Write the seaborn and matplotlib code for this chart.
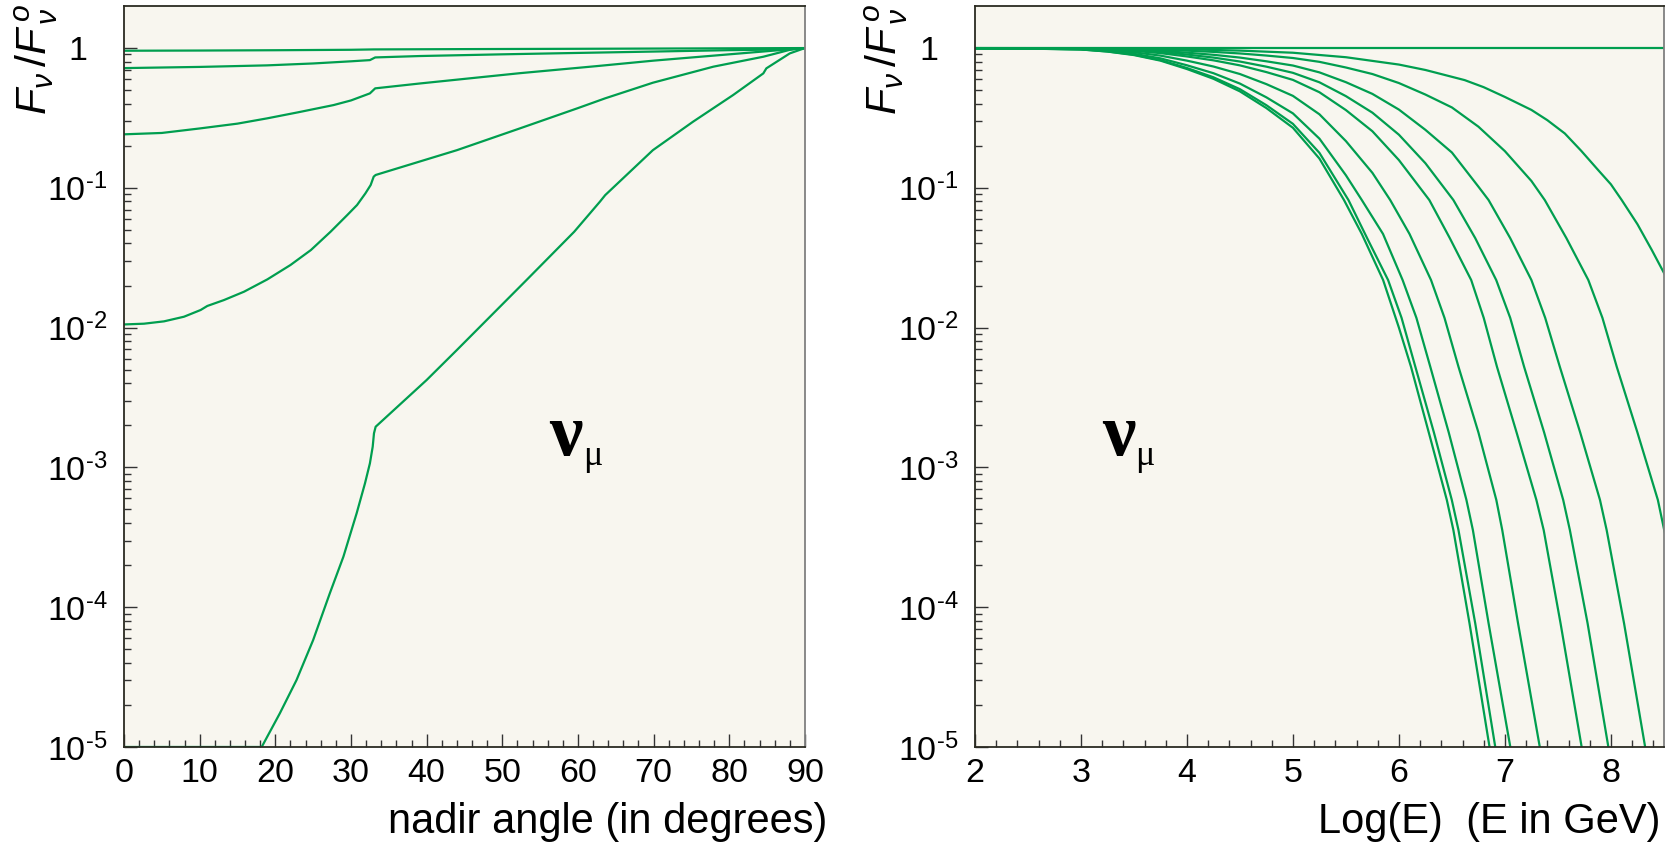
import matplotlib
matplotlib.use("Agg")
import matplotlib.pyplot as plt
import matplotlib.font_manager as fm
import numpy as np
import pandas as pd
import seaborn as sns
from matplotlib.ticker import FixedLocator, FixedFormatter, MultipleLocator, NullFormatter

# ---------------- data ----------------
# Left panel: F/F0 versus nadir angle, five curves
angle_a = [0, 10, 20, 30, 33, 45, 60, 75, 90]
ratio_a = [0.957, 0.960, 0.965, 0.972, 0.978, 0.983, 0.988, 0.994, 1.0]

angle_b = [0, 10, 18.9, 25, 30, 32.5, 33.2, 39.1, 50, 60, 70, 80, 88.4, 90]
ratio_b = [0.719, 0.733, 0.752, 0.776, 0.804, 0.820, 0.857, 0.877, 0.902, 0.923, 0.944, 0.966, 0.979, 1.0]

angle_c = [0, 5, 10, 15, 18.9, 23, 27.7, 30, 32.5, 33.2, 39.1, 52.3, 62.5, 70, 80, 88.4, 90]
ratio_c = [0.2415, 0.247, 0.266, 0.288, 0.314, 0.347, 0.391, 0.422, 0.474, 0.515, 0.558,
           0.661, 0.743, 0.813, 0.902, 0.984, 1.0]

angle_d = [0, 2.64, 5.29, 7.93, 10.13, 11.01, 13.2, 15.86, 18.94, 22.0, 24.7, 27.3, 29.5, 30.8,
           31.9, 32.6, 33.0, 33.26, 44, 52.3, 60, 63.6, 69.9, 77.9, 84.5, 88.4, 90]
ratio_d = [0.01054, 0.01067, 0.01109, 0.01197, 0.01337, 0.01429, 0.01574, 0.01807, 0.02213,
           0.02805, 0.03589, 0.04853, 0.06383, 0.07534, 0.0912, 0.1047, 0.1202, 0.1236,
           0.186, 0.266, 0.372, 0.437, 0.565, 0.736, 0.867, 0.984, 1.0]

angle_e = [0, 18.2, 20.6, 22.8, 25.0, 27.2, 29.0, 30.75, 31.85, 32.5, 32.87, 33.04, 33.26, 40.0,
           44.0, 53.2, 59.5, 62.9, 63.6, 69.9, 75.2, 80.5, 84.5, 84.9, 88.0, 90]
ratio_e = [1e-5, 1e-5, 1.742e-5, 3.01e-5, 5.82e-5, 1.256e-4, 2.30e-4, 4.70e-4, 7.69e-4, 1.069e-3,
           1.406e-3, 1.754e-3, 1.954e-3, 4.22e-3, 6.92e-3, 0.0219, 0.0485, 0.0796, 0.0887,
           0.186, 0.297, 0.461, 0.659, 0.716, 0.916, 1.0]

# Right panel: F/F0 versus log10(E/GeV), ten curves
loge_0 = [2.0, 8.5]
ratio_0 = [1.0, 1.0]

loge_1 = [2.0, 2.5, 3.0, 3.25, 3.5, 3.75, 4.0, 4.25, 4.5, 4.75, 5.0, 5.25, 5.482, 5.65, 5.851,
          6.0, 6.114, 6.3, 6.452, 6.514, 6.666, 6.855]
ratio_1 = [0.9954, 0.9908, 0.977, 0.944, 0.891, 0.813, 0.708, 0.603, 0.490, 0.372, 0.269, 0.162,
           0.0818, 0.0468, 0.0219, 0.0100, 5.25e-3, 1.58e-3, 5.85e-4, 3.56e-4, 7.67e-5, 1e-5]

loge_2 = [2.0, 2.5, 3.0, 3.25, 3.5, 3.75, 4.0, 4.25, 4.5, 4.75, 5.0, 5.25, 5.524, 5.7, 5.898,
          6.025, 6.155, 6.33, 6.499, 6.562, 6.720, 6.909]
ratio_2 = [0.9956, 0.9913, 0.978, 0.946, 0.897, 0.821, 0.720, 0.618, 0.508, 0.390, 0.287, 0.178,
           0.0818, 0.0437, 0.0219, 0.01175, 5.25e-3, 1.78e-3, 5.85e-4, 3.56e-4, 7.67e-5, 1e-5]

loge_3 = [2.0, 2.5, 3.0, 3.25, 3.5, 3.75, 4.0, 4.25, 4.5, 4.75, 5.0, 5.25, 5.5, 5.650, 5.85,
          6.035, 6.165, 6.296, 6.47, 6.637, 6.698, 6.846, 7.051]
ratio_3 = [0.9963, 0.9924, 0.981, 0.954, 0.910, 0.844, 0.753, 0.661, 0.557, 0.444, 0.341, 0.225,
           0.123, 0.0818, 0.0468, 0.0219, 0.01175, 5.25e-3, 1.78e-3, 5.85e-4, 3.56e-4, 7.67e-5,
           1e-5]

loge_4 = [2.0, 2.5, 3.0, 3.25, 3.5, 3.75, 4.0, 4.25, 4.5, 4.75, 5.0, 5.25, 5.5, 5.75, 5.918,
          6.1, 6.303, 6.43, 6.562, 6.75, 6.919, 6.975, 7.124, 7.329]
ratio_4 = [0.9972, 0.9945, 0.986, 0.966, 0.933, 0.883, 0.813, 0.738, 0.652, 0.552, 0.455, 0.336,
           0.216, 0.128, 0.0818, 0.0468, 0.0219, 0.01175, 5.25e-3, 1.78e-3, 5.85e-4, 3.56e-4,
           7.67e-5, 1e-5]

loge_5 = [2.0, 2.5, 3.0, 3.25, 3.5, 3.75, 4.0, 4.25, 4.5, 4.75, 5.0, 5.25, 5.5, 5.75, 6.0,
          6.287, 6.48, 6.682, 6.80, 6.925, 7.11, 7.297, 7.366, 7.525, 7.724]
ratio_5 = [0.9982, 0.9963, 0.991, 0.977, 0.955, 0.920, 0.871, 0.817, 0.752, 0.673, 0.592, 0.483,
           0.360, 0.254, 0.158, 0.0818, 0.0437, 0.0219, 0.01175, 5.25e-3, 1.78e-3, 5.85e-4,
           3.56e-4, 7.67e-5, 1e-5]

loge_6 = [2.0, 2.5, 3.0, 3.25, 3.5, 3.75, 4.0, 4.25, 4.5, 4.75, 5.0, 5.25, 5.5, 5.75, 6.0, 6.25,
          6.514, 6.72, 6.918, 7.05, 7.181, 7.37, 7.550, 7.613, 7.780, 7.976]
ratio_6 = [0.9986, 0.9972, 0.993, 0.982, 0.965, 0.938, 0.899, 0.855, 0.801, 0.736, 0.665, 0.569,
           0.453, 0.345, 0.240, 0.150, 0.0818, 0.0437, 0.0219, 0.01175, 5.25e-3, 1.78e-3,
           5.85e-4, 3.56e-4, 7.67e-5, 1e-5]

loge_7 = [2.0, 2.5, 3.0, 3.25, 3.5, 3.75, 4.0, 4.25, 4.5, 4.75, 5.0, 5.25, 5.5, 5.75, 6.0, 6.25,
          6.5, 6.75, 6.846, 7.05, 7.250, 7.38, 7.518, 7.71, 7.897, 7.960, 8.124, 8.323]
ratio_7 = [0.9991, 0.9979, 0.995, 0.987, 0.975, 0.955, 0.927, 0.895, 0.855, 0.804, 0.750, 0.670,
           0.570, 0.470, 0.363, 0.260, 0.179, 0.102, 0.0818, 0.0437, 0.0219, 0.01175, 5.25e-3,
           1.78e-3, 5.85e-4, 3.56e-4, 7.67e-5, 1e-5]

loge_8 = [2.0, 2.5, 3.0, 3.25, 3.5, 3.75, 4.0, 4.25, 4.5, 4.75, 5.0, 5.25, 5.5, 5.75, 6.0, 6.25,
          6.5, 6.75, 7.0, 7.25, 7.376, 7.58, 7.787, 7.92, 8.055, 8.25, 8.443, 8.503, 8.52]
ratio_8 = [0.9993, 0.9988, 0.997, 0.993, 0.986, 0.974, 0.958, 0.939, 0.915, 0.884, 0.849, 0.797,
           0.726, 0.652, 0.562, 0.465, 0.376, 0.274, 0.183, 0.112, 0.0818, 0.0437, 0.0219,
           0.01175, 5.25e-3, 1.78e-3, 5.85e-4, 3.56e-4, 3.16e-4]

loge_9 = [2.0, 3.0, 3.5, 4.0, 4.5, 5.0, 5.5, 6.0, 6.25, 6.62, 6.8, 7.0, 7.25, 7.4, 7.565, 7.72,
          7.88, 8.0, 8.102, 8.25, 8.386, 8.52]
ratio_9 = [0.9998, 0.9986, 0.993, 0.980, 0.959, 0.926, 0.860, 0.762, 0.697, 0.590, 0.525, 0.447,
           0.361, 0.305, 0.245, 0.184, 0.134, 0.106, 0.0818, 0.0550, 0.0359, 0.0231]

ytick_vals = [1e-5, 1e-4, 1e-3, 1e-2, 1e-1, 1]
ytick_text = ["$10^{\u20105}$", "$10^{\u20104}$", "$10^{\u20103}$", "$10^{\u20102}$",
              "$10^{\u20101}$", "1  "]

left_xlabel = "nadir angle (in degrees)"
right_xlabel = "Log(E)  (E in GeV)"
ylabel_text = r"$\mathit{F_{\nu}\,/F^{\,o}_{\,\nu}}$"

# ---------------- styling ----------------
GREEN = "#009e4f"
FACE = "#f8f6ef"

sns.set_style("ticks")
plt.rcParams["font.family"] = ["Liberation Sans", "DejaVu Sans"]
plt.rcParams["mathtext.fontset"] = "custom"
plt.rcParams["mathtext.rm"] = "Liberation Sans"
plt.rcParams["mathtext.it"] = "Liberation Sans:italic"
plt.rcParams["mathtext.bf"] = "Liberation Sans:bold"
plt.rcParams["text.color"] = "black"
plt.rcParams["axes.labelcolor"] = "black"
plt.rcParams["xtick.color"] = "black"
plt.rcParams["ytick.color"] = "black"

names = {f.name for f in fm.fontManager.ttflist}
if "Liberation Sans Narrow" in names:
    XLAB_FONT, XLAB_SIZE = "Liberation Sans Narrow", 35
else:
    XLAB_FONT, XLAB_SIZE = "Liberation Sans", 30

fig = plt.figure(figsize=(16.78, 8.43), dpi=100)
fig.patch.set_facecolor("white")
ax1 = fig.add_axes([0.0739, 0.1139, 0.4058, 0.8790])
ax2 = fig.add_axes([0.5810, 0.1139, 0.4106, 0.8790])

left_sets = [(angle_a, ratio_a), (angle_b, ratio_b), (angle_c, ratio_c),
             (angle_d, ratio_d), (angle_e, ratio_e)]
df_left = pd.concat([pd.DataFrame({"angle": a, "ratio": r, "curve": i})
                     for i, (a, r) in enumerate(left_sets)], ignore_index=True)

right_sets = [(loge_0, ratio_0), (loge_1, ratio_1), (loge_2, ratio_2), (loge_3, ratio_3),
              (loge_4, ratio_4), (loge_5, ratio_5), (loge_6, ratio_6), (loge_7, ratio_7),
              (loge_8, ratio_8), (loge_9, ratio_9)]
df_right = pd.concat([pd.DataFrame({"loge": a, "ratio": r, "curve": i})
                      for i, (a, r) in enumerate(right_sets)], ignore_index=True)

sns.lineplot(data=df_left, x="angle", y="ratio", units="curve", estimator=None, sort=False,
             color=GREEN, lw=1.6, ax=ax1, legend=False)
sns.lineplot(data=df_right, x="loge", y="ratio", units="curve", estimator=None, sort=False,
             color=GREEN, lw=1.6, ax=ax2, legend=False)

for ax, xlim, xmaj, xmin, xlabel, xl_x in [
        (ax1, (0, 90), 10, 2, left_xlabel, (827 - 124) / 681),
        (ax2, (2, 8.5), 1, 0.2, right_xlabel, (1661 - 975) / 689)]:
    ax.set_facecolor(FACE)
    ax.set_yscale("log")
    ax.set_xlim(*xlim)
    ax.set_ylim(1e-5, 2)
    ax.xaxis.set_major_locator(MultipleLocator(xmaj))
    ax.xaxis.set_minor_locator(MultipleLocator(xmin))
    ax.yaxis.set_major_locator(FixedLocator(ytick_vals))
    ax.yaxis.set_major_formatter(FixedFormatter(ytick_text))
    minor = [m * 10.0 ** e for e in range(-5, 0) for m in range(2, 10)]
    ax.yaxis.set_minor_locator(FixedLocator(minor))
    ax.yaxis.set_minor_formatter(NullFormatter())
    ax.tick_params(which="both", direction="in", top=False, right=False,
                   color="#333333", width=1.0, labelcolor="black")
    ax.tick_params(which="major", length=9.5, labelsize=24.5)
    ax.tick_params(which="minor", length=5)
    ax.tick_params(axis="x", which="major", pad=8)
    ax.tick_params(axis="y", which="major", pad=12)
    for s in ["left", "bottom", "top"]:
        ax.spines[s].set_color("#2b2b22")
        ax.spines[s].set_linewidth(1.3)
    ax.spines["right"].set_color("#808080")
    ax.spines["right"].set_linewidth(1.3)
    ax.set_xlabel(xlabel, fontfamily=XLAB_FONT, fontsize=XLAB_SIZE, ha="right", va="center",
                  color="black")
    ax.xaxis.set_label_coords(xl_x, -0.101)
    lab = ax.set_ylabel(ylabel_text, fontsize=31, color="black")
    lab.set_rotation_mode("default")
    lab.set_ha("center")
    lab.set_va("top")

ax1.yaxis.set_label_coords((36 - 124) / 681, (747 - 4) / 741)
ax2.yaxis.set_label_coords((886 - 975) / 689, (747 - 4) / 741)

# nu_mu annotations
for ax, xn, xm in [(ax1, 0.624, 0.674), (ax2, 0.184, 0.232)]:
    ax.text(xn, 0.394, "\u03bd", transform=ax.transAxes, fontfamily="Liberation Serif",
            fontweight="bold", fontsize=54, ha="left", va="baseline", color="black")
    ax.text(xm, 0.381, "\u03bc", transform=ax.transAxes, fontfamily="Liberation Serif",
            fontsize=26, ha="left", va="baseline", color="black")

fig.savefig("out.png", dpi=100, facecolor="white")
